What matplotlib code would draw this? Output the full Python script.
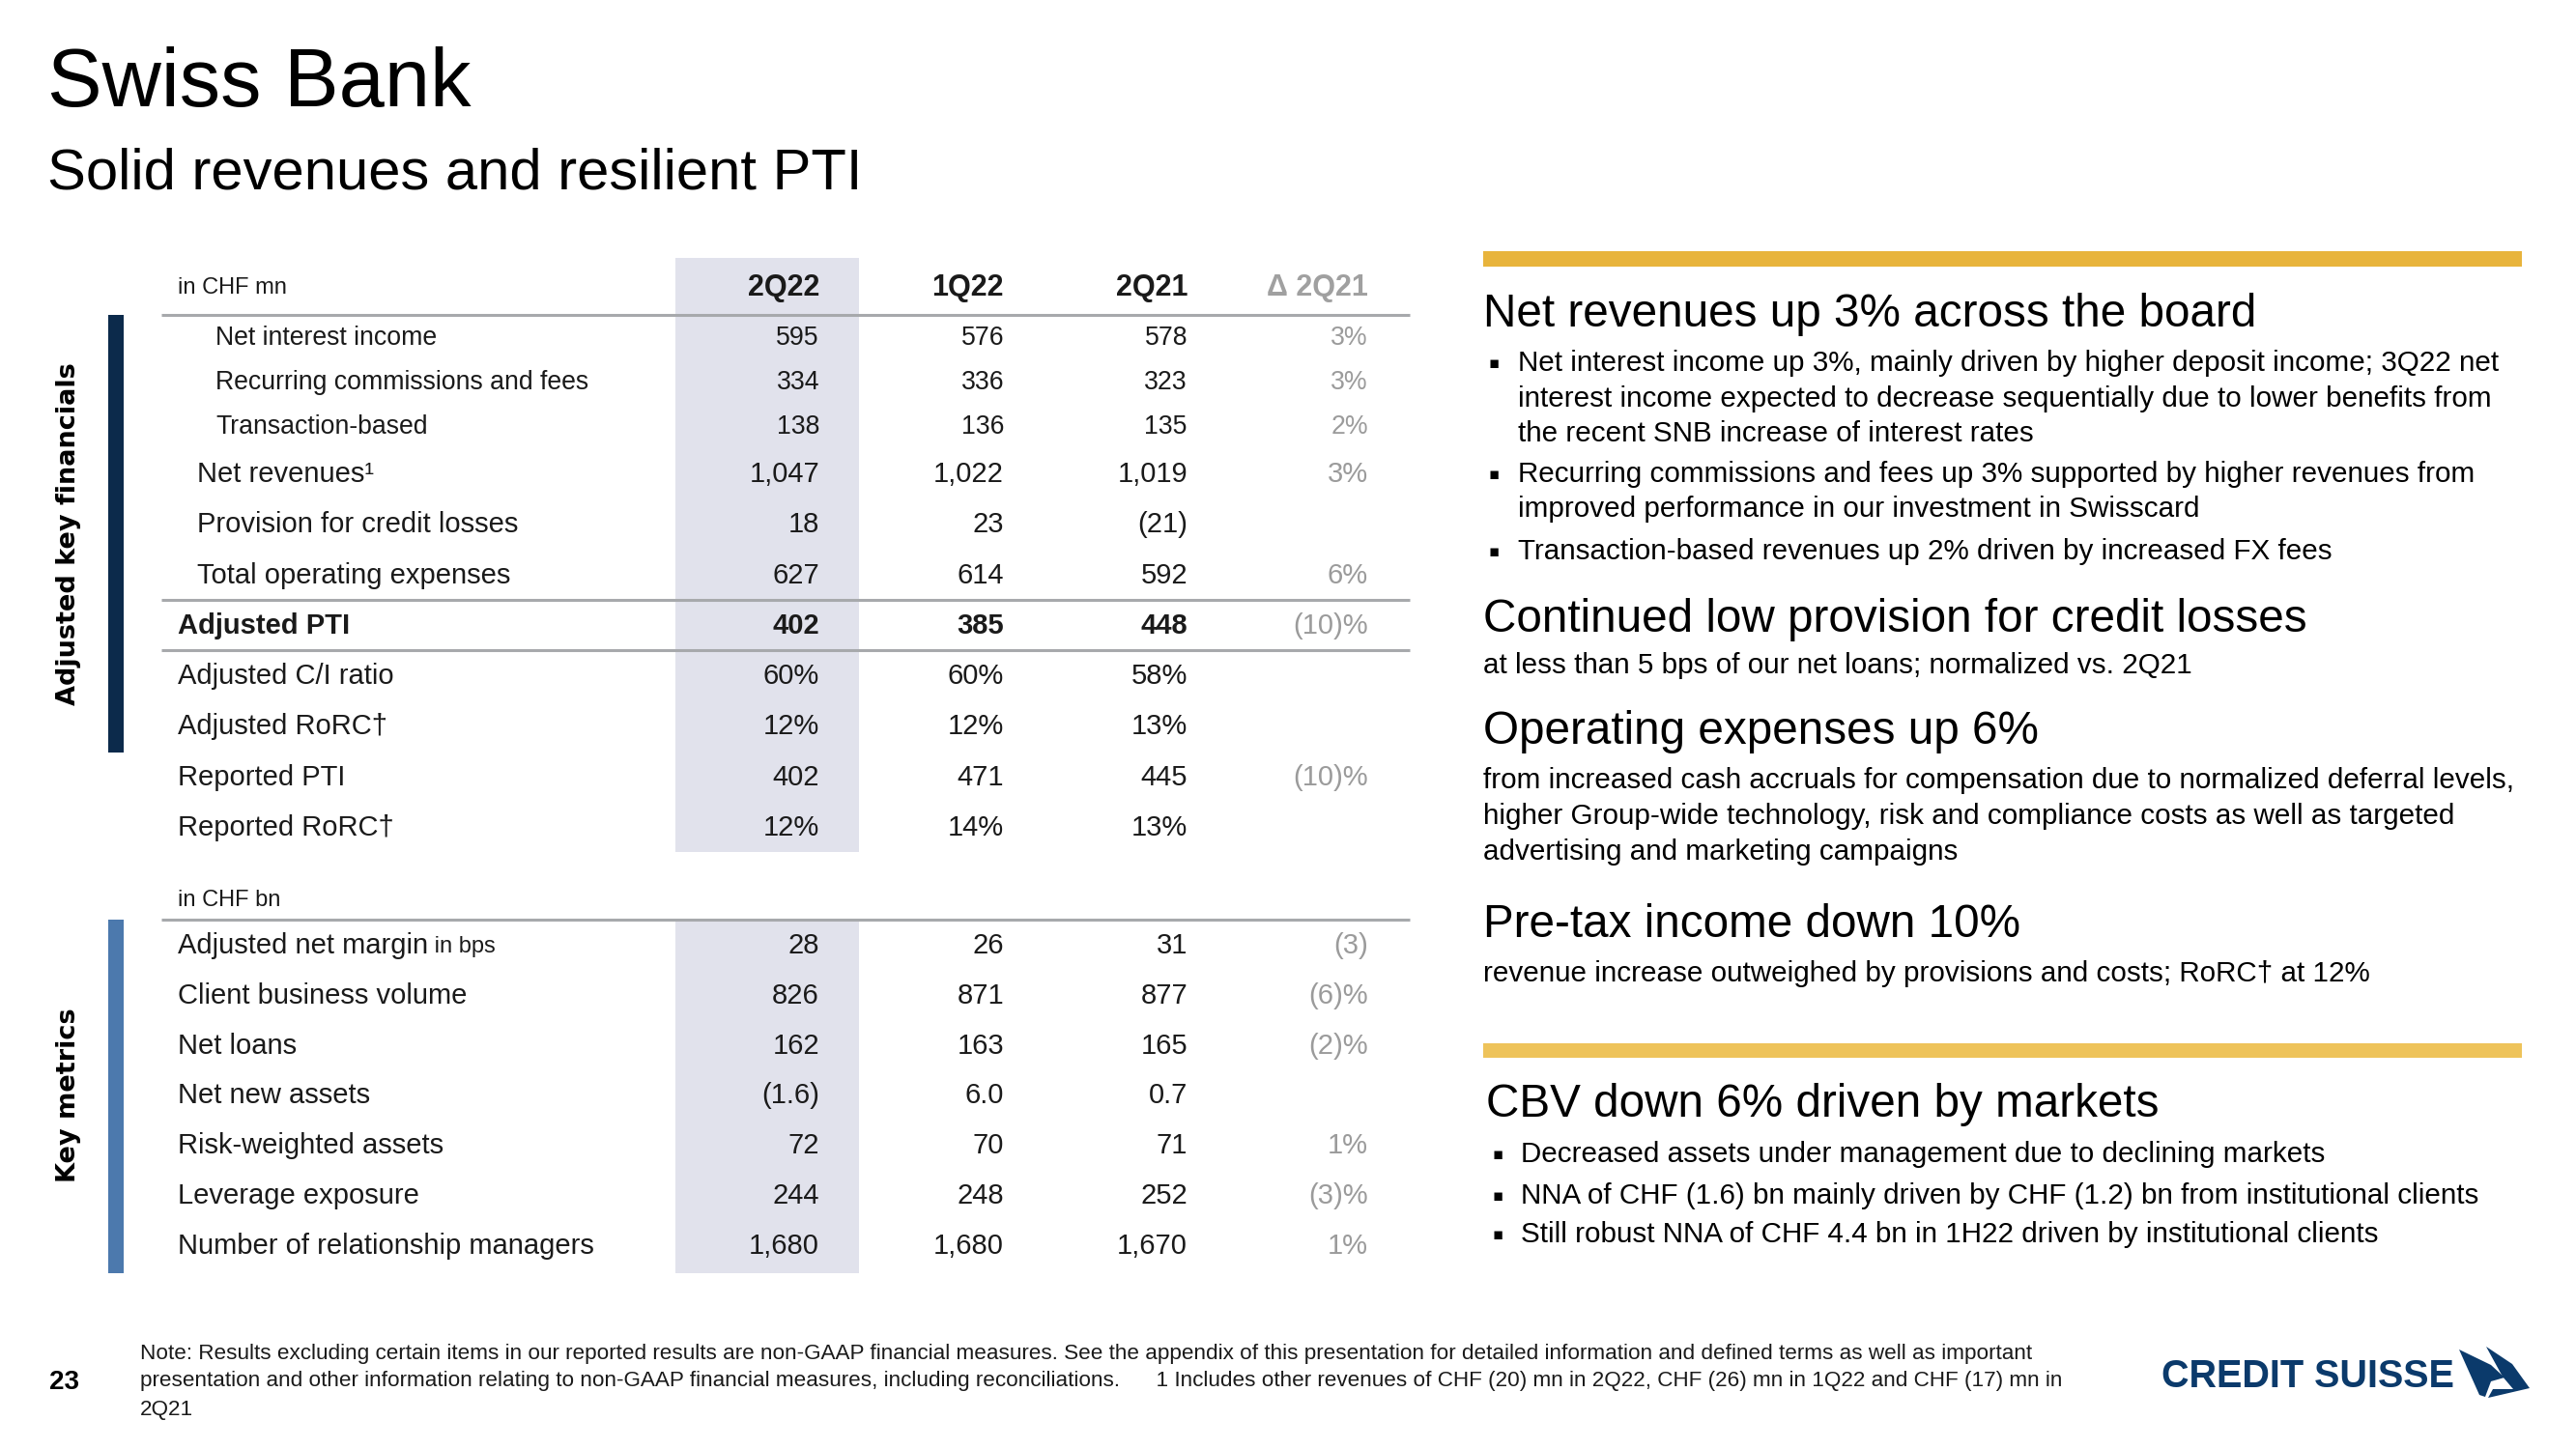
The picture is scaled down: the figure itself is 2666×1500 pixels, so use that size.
import matplotlib
matplotlib.use("Agg")
import matplotlib.pyplot as plt
from matplotlib.patches import Rectangle, Polygon

plt.rcParams['font.family'] = ['Liberation Sans', 'DejaVu Sans']

# ---- data ----
periods = ['2Q22', '1Q22', '2Q21']
delta_header = 'Δ 2Q21'

fin_labels = ['Net interest income', 'Recurring commissions and fees', 'Transaction-based',
              'Net revenues¹', 'Provision for credit losses', 'Total operating expenses',
              'Adjusted PTI', 'Adjusted C/I ratio', 'Adjusted RoRC†', 'Reported PTI', 'Reported RoRC†']
fin_2q22 = ['595', '334', '138', '1,047', '18', '627', '402', '60%', '12%', '402', '12%']
fin_1q22 = ['576', '336', '136', '1,022', '23', '614', '385', '60%', '12%', '471', '14%']
fin_2q21 = ['578', '323', '135', '1,019', '(21)', '592', '448', '58%', '13%', '445', '13%']
fin_delta = ['3%', '3%', '2%', '3%', '', '6%', '(10)%', '', '', '(10)%', '']

met_labels = ['Adjusted net margin', 'Client business volume', 'Net loans', 'Net new assets',
              'Risk-weighted assets', 'Leverage exposure', 'Number of relationship managers']
met_2q22 = ['28', '826', '162', '(1.6)', '72', '244', '1,680']
met_1q22 = ['26', '871', '163', '6.0', '70', '248', '1,680']
met_2q21 = ['31', '877', '165', '0.7', '71', '252', '1,670']
met_delta = ['(3)', '(6)%', '(2)%', '', '1%', '(3)%', '1%']

# ---- style / layout ----
fin_indent = [2, 2, 2, 1, 1, 1, 0, 0, 0, 0, 0]
indent_x = [184, 204, 223]
TXT = '#1a1a1a'
GREY = '#9b9b9b'
LINE = '#a7a9ac'
SHADE = '#e1e2ec'
NAVY = '#0c2a4b'
BLUE = '#4c79ad'
GOLD = '#e8b43c'
GOLD2 = '#eec35a'
LOGO = '#0b3a6b'

col_right = [848, 1039, 1229, 1416]

fig = plt.figure(figsize=(26.66, 15), dpi=100)
ax = fig.add_axes([0, 0, 1, 1])
ax.set_xlim(0, 2666)
ax.set_ylim(1500, 0)
ax.axis('off')

# titles
ax.text(49, 88, 'Swiss Bank', fontsize=61, color='black', va='center', ha='left')
ax.text(49, 180, 'Solid revenues and resilient PTI', fontsize=43, color='black', va='center', ha='left')

# shaded 2Q22 column
ax.add_patch(Rectangle((699, 267), 190, 615, color=SHADE, lw=0, zorder=0))
ax.add_patch(Rectangle((699, 952), 190, 366, color=SHADE, lw=0, zorder=0))

# side bars and labels
ax.add_patch(Rectangle((112, 326), 16, 453, color=NAVY, lw=0))
ax.add_patch(Rectangle((112, 952), 16, 366, color=BLUE, lw=0))
ax.text(71, 553, 'Adjusted key financials', rotation=90, fontsize=19.5, fontweight='bold',
        family='DejaVu Sans', ha='center', va='center', color='black')
ax.text(71, 1134, 'Key metrics', rotation=90, fontsize=19.5, fontweight='bold',
        family='DejaVu Sans', ha='center', va='center', color='black')

# header
ax.text(184, 298, 'in CHF mn', fontsize=17, color=TXT, va='center')
for x, p in zip(col_right, periods):
    ax.text(x, 298, p, fontsize=22, fontweight='bold', color=TXT, ha='right', va='center')
ax.text(col_right[3], 298, delta_header, fontsize=22, fontweight='bold', color='#a0a0a0',
        ha='right', va='center')

for y in (326, 621, 673):
    ax.plot([167, 1459], [y, y], color=LINE, lw=2.2, solid_capstyle='butt')

# financial rows
for i, lab in enumerate(fin_labels):
    if i < 3:
        y = 350 + 46 * i
        fs = 19.2
    else:
        y = 491 + 52.3 * (i - 3)
        fs = 21
    bold = 'bold' if lab == 'Adjusted PTI' else 'normal'
    ax.text(indent_x[fin_indent[i]], y, lab, fontsize=fs, fontweight=bold, color=TXT, va='center')
    for x, v in zip(col_right[:3], (fin_2q22[i], fin_1q22[i], fin_2q21[i])):
        ax.text(x, y, v, fontsize=fs, fontweight=bold, color=TXT, ha='right', va='center')
    ax.text(col_right[3], y, fin_delta[i], fontsize=fs, color=GREY, ha='right', va='center')

# metrics
ax.text(184, 932, 'in CHF bn', fontsize=17, color=TXT, va='center')
ax.plot([167, 1459], [952, 952], color=LINE, lw=2.2, solid_capstyle='butt')
for i, lab in enumerate(met_labels):
    y = 979 + 51.8 * i
    t = ax.text(184, y, lab, fontsize=21, color=TXT, va='center')
    if i == 0:
        ax.annotate(' in bps', xy=(1, 0.08), xycoords=t, fontsize=17, color=TXT, va='bottom')
    for x, v in zip(col_right[:3], (met_2q22[i], met_1q22[i], met_2q21[i])):
        ax.text(x, y, v, fontsize=21, color=TXT, ha='right', va='center')
    ax.text(col_right[3], y, met_delta[i], fontsize=21, color=GREY, ha='right', va='center')

# right-hand commentary
ax.add_patch(Rectangle((1535, 260), 1075, 16, color=GOLD, lw=0))
ax.add_patch(Rectangle((1535, 1080), 1075, 15, color=GOLD2, lw=0))

H = 34.3
B = 21.3


def heading(x, y, s):
    ax.text(x, y, s, fontsize=H, color='black', va='center')


def bullets(x, lines):
    for y, s, first in lines:
        if first:
            ax.text(x, y, '▪', fontsize=12, color='black', va='center', family='DejaVu Sans')
        ax.text(x + 30, y, s, fontsize=B, color='black', va='center')


heading(1535, 326, 'Net revenues up 3% across the board')
bullets(1541, [
    (376, 'Net interest income up 3%, mainly driven by higher deposit income; 3Q22 net', True),
    (413, 'interest income expected to decrease sequentially due to lower benefits from', False),
    (449, 'the recent SNB increase of interest rates', False),
    (491, 'Recurring commissions and fees up 3% supported by higher revenues from', True),
    (527, 'improved performance in our investment in Swisscard', False),
    (571, 'Transaction-based revenues up 2% driven by increased FX fees', True),
])
heading(1535, 641, 'Continued low provision for credit losses')
ax.text(1535, 689, 'at less than 5 bps of our net loans; normalized vs. 2Q21', fontsize=B, va='center')
heading(1535, 757, 'Operating expenses up 6%')
for y, s in [(808, 'from increased cash accruals for compensation due to normalized deferral levels,'),
             (845, 'higher Group-wide technology, risk and compliance costs as well as targeted'),
             (882, 'advertising and marketing campaigns')]:
    ax.text(1535, y, s, fontsize=B, va='center')
heading(1535, 957, 'Pre-tax income down 10%')
ax.text(1535, 1008, 'revenue increase outweighed by provisions and costs; RoRC† at 12%', fontsize=B, va='center')

heading(1538, 1144, 'CBV down 6% driven by markets')
bullets(1544, [
    (1195, 'Decreased assets under management due to declining markets', True),
    (1238, 'NNA of CHF (1.6) bn mainly driven by CHF (1.2) bn from institutional clients', True),
    (1278, 'Still robust NNA of CHF 4.4 bn in 1H22 driven by institutional clients', True),
])

# footer
ax.text(51, 1431, '23', fontsize=20, fontweight='bold', va='center')
note = ['Note: Results excluding certain items in our reported results are non-GAAP financial measures. '
        'See the appendix of this presentation for detailed information and defined terms as well as important',
        'presentation and other information relating to non-GAAP financial measures, including reconciliations.'
        '      1 Includes other revenues of CHF (20) mn in 2Q22, CHF (26) mn in 1Q22 and CHF (17) mn in',
        '2Q21']
for k, s in enumerate(note):
    ax.text(145, 1401 + 29 * k, s, fontsize=16.2, color=TXT, va='center')

# logo
ax.text(2237, 1425, 'CREDIT SUISSE', fontsize=28.5, fontweight='bold', color=LOGO, va='center')
ax.add_patch(Polygon([[2545, 1397], [2578, 1413], [2592, 1426], [2578, 1430], [2572, 1446], [2566, 1444]],
                     closed=True, color=LOGO, lw=0))
ax.add_patch(Polygon([[2573, 1394], [2600, 1412], [2618, 1437], [2575, 1447], [2580, 1438],
                      [2601, 1438], [2590, 1425]], closed=True, color=LOGO, lw=0))

fig.savefig('out.png', dpi=100)
